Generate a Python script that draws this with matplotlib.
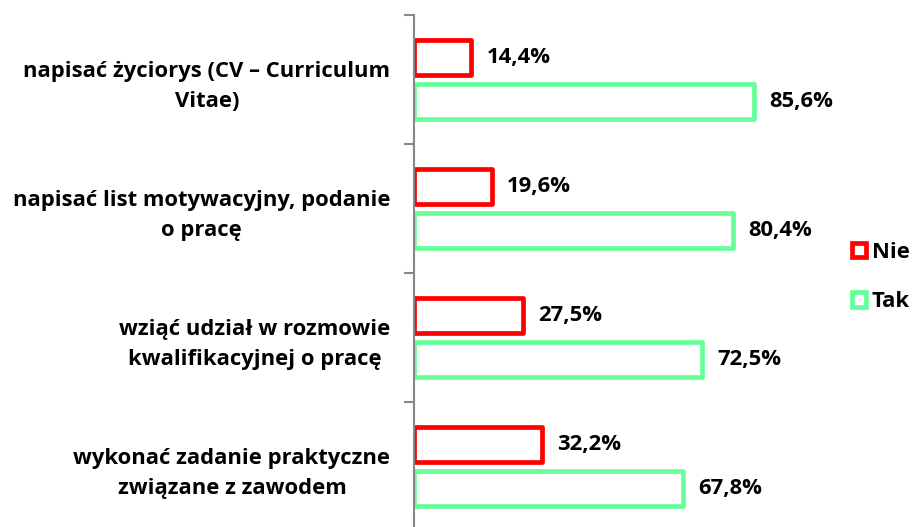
import numpy as np
import matplotlib.pyplot as plt

plt.rcParams['font.family'] = ['Open Sans', 'DejaVu Sans']

categories = ["napisać życiorys (CV – Curriculum\nVitae)",
              "napisać list motywacyjny, podanie\no pracę",
              "wziąć udział w rozmowie\nkwalifikacyjnej o pracę",
              "wykonać zadanie praktyczne\nzwiązane z zawodem"]
nie = [14.4, 19.6, 27.5, 32.2]
tak = [85.6, 80.4, 72.5, 67.8]

RED, GREEN = "#ff0000", "#66ff99"
FS = 15.8
W, H = 916, 527
fig = plt.figure(figsize=(W/100, H/100), dpi=100)
# axes: left at 414px, top at 15px, 129px per category
ax = fig.add_axes([414/W, (H-15-516)/H, 397/W, 516/H])

y = np.arange(len(categories))
bh = 0.27
off = 0.17
kw = dict(height=bh, facecolor="white", linewidth=3.4, joinstyle="round")
ax.barh(y - off, nie, edgecolor=RED, label="Nie", **kw)
ax.barh(y + off, tak, edgecolor=GREEN, label="Tak", **kw)

for i in range(len(categories)):
    ax.annotate(f"{nie[i]:.1f}%".replace(".", ","), (nie[i], y[i] - off),
                xytext=(11, 0), textcoords="offset points", va="center",
                fontsize=FS, fontweight="bold")
    ax.annotate(f"{tak[i]:.1f}%".replace(".", ","), (tak[i], y[i] + off),
                xytext=(11, 0), textcoords="offset points", va="center",
                fontsize=FS, fontweight="bold")

ax.set_xlim(0, 100)
ax.set_ylim(len(categories) - 0.5, -0.5)
ax.set_yticks(np.arange(len(categories) + 1) - 0.5)
ax.set_yticklabels([])
ax.set_yticks(y, minor=True)
ax.set_yticklabels(categories, minor=True, fontsize=FS, fontweight="bold",
                   multialignment="center", linespacing=1.55)
ax.tick_params(axis="y", which="major", length=7, color="#888888", width=1.5)
ax.tick_params(axis="y", which="minor", length=0, pad=17)
ax.set_xticks([])
for s in ["top", "right", "bottom"]:
    ax.spines[s].set_visible(False)
ax.spines["left"].set_color("#888888")
ax.spines["left"].set_linewidth(1.5)

leg = fig.legend(loc="upper left", bbox_to_anchor=(832/W, 1 - 222/H), frameon=False,
                 prop=dict(size=FS, weight="bold"), handlelength=0.65, handleheight=0.65,
                 handletextpad=0.25, labelspacing=1.3)

fig.savefig("out.png", dpi=100)
